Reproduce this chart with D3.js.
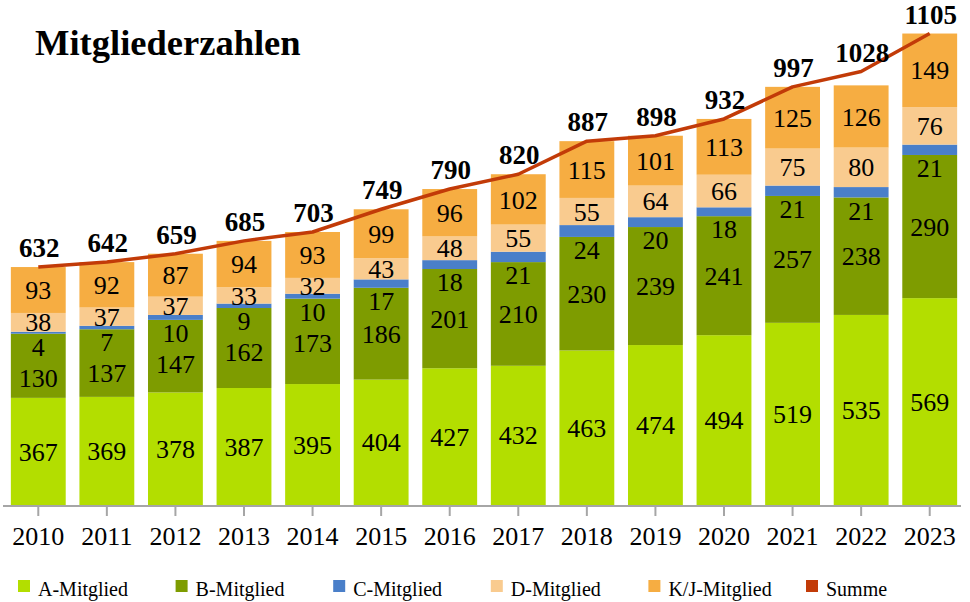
<!DOCTYPE html>
<html>
<head>
<meta charset="utf-8">
<script src="https://cdn.jsdelivr.net/npm/d3@7"></script>
<style>
  body { margin: 0; background: #fff; }
  svg text { font-family: "Liberation Serif", "Times New Roman", serif; fill: #000; }
</style>
</head>
<body>
<svg id="chart" width="970" height="602"></svg>
<script>
const years = ['2010', '2011', '2012', '2013', '2014', '2015', '2016', '2017', '2018', '2019', '2020', '2021', '2022', '2023'];
const aMitglied = [367, 369, 378, 387, 395, 404, 427, 432, 463, 474, 494, 519, 535, 569];
const bMitglied = [130, 137, 147, 162, 173, 186, 201, 210, 230, 239, 241, 257, 238, 290];
const cMitglied = [4, 7, 10, 9, 10, 17, 18, 21, 24, 20, 18, 21, 21, 21];
const dMitglied = [38, 37, 37, 33, 32, 43, 48, 55, 55, 64, 66, 75, 80, 76];
const kjMitglied = [93, 92, 87, 94, 93, 99, 96, 102, 115, 101, 113, 125, 126, 149];
const summe = [632, 642, 659, 685, 703, 749, 790, 820, 887, 898, 932, 997, 1028, 1105];
const seriesNames = ['A-Mitglied', 'B-Mitglied', 'C-Mitglied', 'D-Mitglied', 'K/J-Mitglied', 'Summe'];

const colors = ['#b3de00', '#7e9c00', '#4a7fc9', '#f9cb8f', '#f6ad42', '#c23b08'];
const stackKeys = ['A', 'B', 'C', 'D', 'K'];

let svg = d3.select('#chart');

let rows = years.map((year, i) => ({
  year: year,
  A: aMitglied[i],
  B: bMitglied[i],
  C: cMitglied[i],
  D: dMitglied[i],
  K: kjMitglied[i],
  total: summe[i]
}));

let x = d3.scaleBand()
  .domain(years)
  .range([4, 964])
  .paddingInner(0.2)
  .paddingOuter(0.1);

// axis does not start at zero
let y = d3.scaleLinear()
  .domain([150, 1100])
  .range([505, 36]);

let stacked = d3.stack().keys(stackKeys)(rows);

// Balken
let layers = svg.append('g')
  .selectAll('g')
  .data(stacked)
  .enter()
  .append('g')
  .attr('fill', (d, i) => colors[i]);

layers.selectAll('rect')
  .data(d => d)
  .enter()
  .append('rect')
  .attr('x', d => x(d.data.year))
  .attr('width', x.bandwidth())
  .attr('y', d => y(d[1]))
  .attr('height', d => Math.max(0, y(Math.max(d[0], 150)) - y(d[1])));

// Werte in den Balken
function labelY(key, d) {
  let bottom = y(Math.max(d[0], 150));
  let top = y(d[1]);
  if (key === 'C') return bottom + 13;
  if (key === 'B') {
    let cLabel = top + 13;
    return Math.max((bottom + top) / 2, cLabel + 31);
  }
  return (bottom + top) / 2;
}

let labels = svg.append('g');
stacked.forEach(layer => {
  labels.selectAll(null)
    .data(layer)
    .enter()
    .append('text')
    .attr('x', d => x(d.data.year) + x.bandwidth() / 2)
    .attr('y', d => labelY(layer.key, d))
    .attr('dy', '0.35em')
    .attr('text-anchor', 'middle')
    .style('font-size', '26px')
    .text(d => d.data[layer.key]);
});

// Achse
let xAxis = svg.append('g')
  .attr('transform', 'translate(0,506)')
  .call(d3.axisBottom(x).tickSize(10).tickSizeOuter(0).tickPadding(11));

xAxis.select('.domain')
  .attr('d', 'M3,0H961')
  .attr('stroke', '#a6a6a6')
  .attr('stroke-width', 2);
xAxis.selectAll('.tick line')
  .attr('stroke', '#a6a6a6')
  .attr('stroke-width', 2);
xAxis.selectAll('.tick text')
  .style('font-family', '"Liberation Serif", serif')
  .style('font-size', '26px')
  .attr('fill', '#000');

// Summe
let line = d3.line()
  .x(d => x(d.year) + x.bandwidth() / 2)
  .y(d => y(d.total));

svg.append('path')
  .datum(rows)
  .attr('d', line)
  .attr('fill', 'none')
  .attr('stroke', colors[5])
  .attr('stroke-width', 3.5)
  .attr('stroke-linejoin', 'round');

svg.append('g')
  .selectAll('text')
  .data(rows)
  .enter()
  .append('text')
  .attr('x', d => x(d.year) + x.bandwidth() / 2 + 1)
  .attr('y', d => y(d.total) - 10)
  .attr('text-anchor', 'middle')
  .style('font-size', '27px')
  .style('font-weight', 'bold')
  .text(d => d.total);

// Titel
svg.append('text')
  .attr('x', 35)
  .attr('y', 55)
  .style('font-size', '36.5px')
  .style('font-weight', 'bold')
  .text('Mitgliederzahlen');

// Legende
let legendX = d3.scalePoint()
  .domain(seriesNames)
  .range([18, 806]);

let legend = svg.append('g')
  .selectAll('g')
  .data(seriesNames)
  .enter()
  .append('g')
  .attr('transform', d => `translate(${legendX(d)},580)`);

legend.append('rect')
  .attr('width', 12)
  .attr('height', 12)
  .attr('fill', (d, i) => colors[i]);

legend.append('text')
  .attr('x', 20)
  .attr('y', 16)
  .style('font-size', '20px')
  .text(d => d);
</script>
</body>
</html>
